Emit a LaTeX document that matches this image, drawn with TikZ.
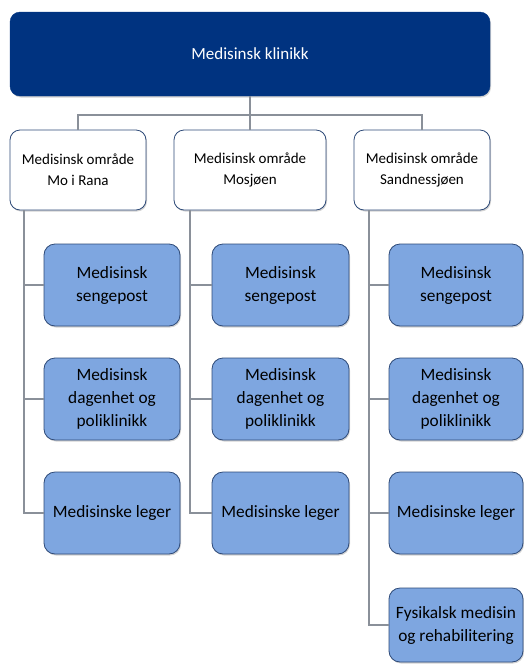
\documentclass[tikz,border=0pt]{standalone}
\usepackage{fontspec}
\setmainfont{Carlito}
\usetikzlibrary{shadows}

\definecolor{navy}{HTML}{003380}
\definecolor{boxblue}{HTML}{7EA6E0}
\definecolor{boxedge}{HTML}{2E4A78}
\definecolor{linegrey}{HTML}{8A9099}

\tikzset{
  topbox/.style={draw=navy, fill=navy, rounded corners=10pt, text=white,
    minimum width=480pt, minimum height=84pt, font=\fontsize{17}{20}\selectfont,
    drop shadow={shadow xshift=1pt, shadow yshift=-1.5pt, opacity=0.35}},
  areabox/.style={draw=boxedge, fill=white, rounded corners=10pt, thick,
    minimum height=80pt, align=center, font=\fontsize{15}{21}\selectfont,
    drop shadow={shadow xshift=1pt, shadow yshift=-1.5pt, opacity=0.35}},
  unitbox/.style={draw=boxedge, fill=boxblue, rounded corners=11pt, thick,
    minimum height=82pt, align=center, font=\fontsize{17.3}{23}\selectfont,
    drop shadow={shadow xshift=1pt, shadow yshift=-1.5pt, opacity=0.35}},
  link/.style={draw=linegrey, line width=1.8pt}
}

\begin{document}
\begin{tikzpicture}[x=1pt, y=-1pt]
    \useasboundingbox (0,0) rectangle (524,665);

    % Top level
    \node[topbox] (klinikk) at (250,54) {Medisinsk klinikk};

    % Medical areas
    \node[areabox, minimum width=136pt] (mo)   at (78,170)  {Medisinsk område\\Mo i Rana};
    \node[areabox, minimum width=152pt] (mos)  at (250,170) {Medisinsk område\\Mosjøen};
    \node[areabox, minimum width=136pt] (sand) at (422,170) {Medisinsk område\\Sandnessjøen};

    % Units under Mo i Rana
    \node[unitbox, minimum width=136pt] (seng1)  at (112,285) {Medisinsk\\sengepost};
    \node[unitbox, minimum width=136pt] (dag1)   at (112,399) {Medisinsk\\dagenhet og\\poliklinikk};
    \node[unitbox, minimum width=136pt] (leger1) at (112,513) {Medisinske leger};

    % Units under Mosjøen
    \node[unitbox, minimum width=137pt] (seng2)  at (280.5,285) {Medisinsk\\sengepost};
    \node[unitbox, minimum width=137pt] (dag2)   at (280.5,399) {Medisinsk\\dagenhet og\\poliklinikk};
    \node[unitbox, minimum width=137pt] (leger2) at (280.5,513) {Medisinske leger};

    % Units under Sandnessjøen
    \node[unitbox, minimum width=134pt] (seng3)  at (456,285) {Medisinsk\\sengepost};
    \node[unitbox, minimum width=134pt] (dag3)   at (456,399) {Medisinsk\\dagenhet og\\poliklinikk};
    \node[unitbox, minimum width=134pt] (leger3) at (456,513) {Medisinske leger};
    \node[unitbox, minimum width=134pt, minimum height=74pt] (fys) at (456,625) {Fysikalsk medisin\\og rehabilitering};

    % Bus from the top box
    \coordinate (bus) at ([yshift=-19pt]klinikk.south);
    \draw[link] (klinikk.south) -- (bus);
    \draw[link] (bus) -| (mo.north);
    \draw[link] (bus) -| (sand.north);
    \draw[link] (bus) -- (mos.north);

    % Spines down the left side of each area
    \coordinate (sp1) at ([xshift=14pt]mo.south west);
    \coordinate (sp2) at ([xshift=16pt]mos.south west);
    \coordinate (sp3) at ([xshift=15pt]sand.south west);
    \foreach \u in {seng1,dag1,leger1} \draw[link] (sp1) |- (\u.west);
    \foreach \u in {seng2,dag2,leger2} \draw[link] (sp2) |- (\u.west);
    \foreach \u in {seng3,dag3,leger3,fys} \draw[link] (sp3) |- (\u.west);

\end{tikzpicture}
\end{document}
